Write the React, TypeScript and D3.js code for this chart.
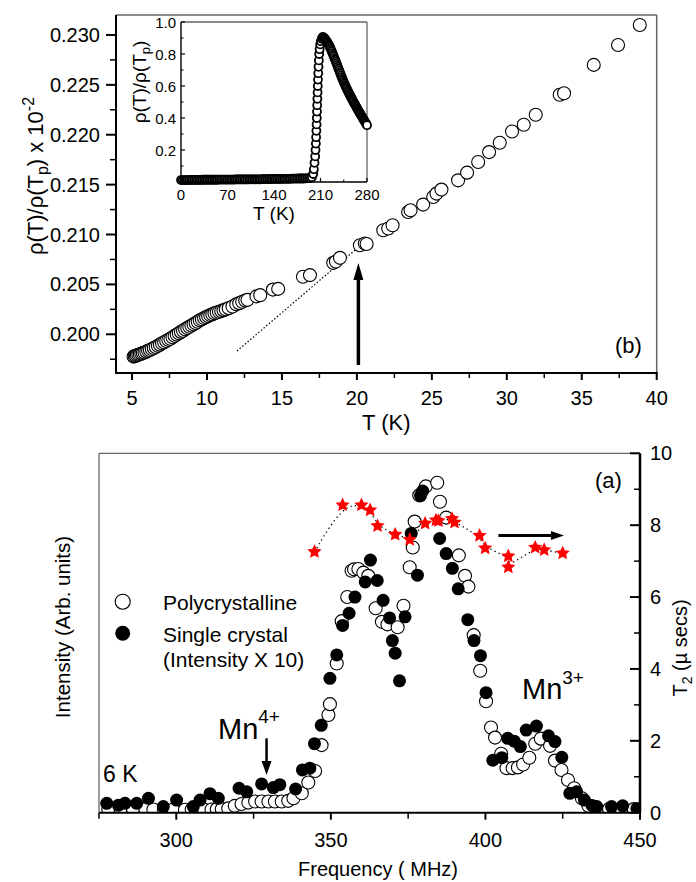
import React from "react";
import * as d3 from "d3";

const FONT = "'Liberation Sans', Arial, Helvetica, sans-serif";

// ---------- Panel (b): low temperature resistivity ----------
const bTemp = [
  5.10, 5.18, 5.25, 5.33, 5.42, 5.52, 5.62, 5.72, 5.83, 5.95, 6.07, 6.19, 6.32, 6.45, 6.58, 6.72, 6.86, 7.00,
  7.14, 7.28, 7.42, 7.56, 7.70, 7.84, 7.98, 8.12, 8.26, 8.40, 8.54, 8.68, 8.82, 8.96, 9.10, 9.24, 9.38, 9.52,
  9.66, 9.80, 9.94, 10.08, 10.22, 10.36, 10.50, 10.65, 10.80, 10.95, 11.10, 11.25, 11.45, 11.70, 11.95, 12.15,
  12.35, 12.55, 12.70, 13.30, 13.55, 14.40, 14.75, 16.40, 16.87, 18.42, 18.60, 18.87, 20.20, 20.53, 20.65,
  21.76, 22.09, 22.38, 23.42, 23.58, 24.42, 25.09, 25.31, 25.64, 26.75, 27.35, 28.09, 28.82, 29.53, 30.35,
  31.13, 31.93, 33.53, 33.82, 35.80, 37.42, 38.87,
];
const bRho = [
  0.19776, 0.1978, 0.19785, 0.1979, 0.19795, 0.198, 0.19806, 0.19812, 0.19818, 0.19826, 0.19834, 0.19843,
  0.19852, 0.19862, 0.19872, 0.19884, 0.19896, 0.1991, 0.1992, 0.19932, 0.19944, 0.19956, 0.1997, 0.19984,
  0.19998, 0.2001, 0.20024, 0.20036, 0.2005, 0.20062, 0.20075, 0.20088, 0.201, 0.20113, 0.20126, 0.2014,
  0.2015, 0.20162, 0.20172, 0.20182, 0.20192, 0.202, 0.2021, 0.20218, 0.20226, 0.20234, 0.20242, 0.2025,
  0.20262, 0.20278, 0.203, 0.20312, 0.20326, 0.20338, 0.20345, 0.2038, 0.20392, 0.20448, 0.20455, 0.20576,
  0.20593, 0.20716, 0.2073, 0.20766, 0.20893, 0.2091, 0.20905, 0.21043, 0.2106, 0.21093, 0.21226, 0.21243,
  0.213, 0.21376, 0.2141, 0.2145, 0.21543, 0.2162, 0.21726, 0.21826, 0.2192, 0.22033, 0.221, 0.222, 0.224,
  0.22416, 0.227, 0.229, 0.231,
];
const bFitT = [12.0, 20.2];
const bFitRho = [0.19832, 0.20885];
const bArrowT = 20.1;
const bArrowRho = [0.19692, 0.20714];
const bXTicks = [5, 10, 15, 20, 25, 30, 35, 40];
const bXMinor = [7.5, 12.5, 17.5, 22.5, 27.5, 32.5, 37.5];
const bYTicks = [0.2, 0.205, 0.21, 0.215, 0.22, 0.225, 0.23];
const bYMinor = [0.1975, 0.2025, 0.2075, 0.2125, 0.2175, 0.2225, 0.2275];

// ---------- Inset: full temperature range ----------
const inTemp = [
  // low-T plateau
  0, 2.5, 5, 7.5, 10, 12.5, 15, 17.5, 20, 22.5, 25, 27.5, 30, 32.5, 35, 37.5, 40, 42.5, 45, 47.5, 50, 52.5, 55,
  57.5, 60, 62.5, 65, 67.5, 70, 72.5, 75, 77.5, 80, 82.5, 85, 87.5, 90, 92.5, 95, 97.5, 100, 102.5, 105, 107.5,
  110, 112.5, 115, 117.5, 120, 122.5, 125, 127.5, 130, 132.5, 135, 137.5, 140, 142.5, 145, 147.5, 150, 152.5,
  155, 157.5, 160, 162.5, 165, 167.5, 170, 172.5, 175, 177.5, 180, 182.5, 185, 187.5, 190, 192.5, 195,
  // transition
  197, 199, 200, 201, 202, 202.5, 203, 203.4, 203.8, 204.1, 204.4, 204.7, 205, 205.3, 205.6, 205.9, 206.2,
  206.6, 207, 207.5, 208, 208.7, 209.5, 210.5, 212,
  // paramagnetic side
  213, 214, 215, 216, 217, 218, 219, 220, 221, 222, 223, 224, 225, 226, 227, 228, 229, 230, 231, 232, 233, 234,
  235, 236, 237, 238, 239, 240, 241, 242, 243, 244, 245, 246, 247, 248, 249, 250, 251, 252, 253, 254, 255, 256,
  257, 258, 259, 260, 261, 262, 263, 264, 265, 266, 267, 268, 269, 270, 271, 272, 273, 274, 275, 276, 277, 278,
  279, 280,
];
const inRho = [
  0.012, 0.012, 0.012, 0.012, 0.012, 0.013, 0.013, 0.013, 0.013, 0.013, 0.013, 0.013, 0.013, 0.014, 0.014,
  0.014, 0.014, 0.014, 0.014, 0.014, 0.014, 0.014, 0.014, 0.015, 0.015, 0.015, 0.015, 0.015, 0.015, 0.015,
  0.015, 0.015, 0.015, 0.016, 0.016, 0.016, 0.016, 0.016, 0.016, 0.016, 0.016, 0.017, 0.017, 0.017, 0.017,
  0.017, 0.017, 0.017, 0.017, 0.018, 0.018, 0.018, 0.018, 0.018, 0.018, 0.019, 0.019, 0.019, 0.019, 0.019,
  0.019, 0.02, 0.02, 0.02, 0.02, 0.02, 0.02, 0.021, 0.021, 0.021, 0.021, 0.022, 0.022, 0.022, 0.022, 0.023,
  0.023, 0.024, 0.024,
  0.03, 0.05, 0.08, 0.12, 0.16, 0.2, 0.24, 0.28, 0.32, 0.36, 0.4, 0.44, 0.48, 0.52, 0.56, 0.6, 0.64, 0.68,
  0.72, 0.76, 0.8, 0.83, 0.86, 0.88, 0.895,
  0.905, 0.905, 0.902, 0.898, 0.893, 0.888, 0.882, 0.875, 0.868, 0.861, 0.853, 0.845, 0.836, 0.826, 0.816,
  0.806, 0.795, 0.785, 0.774, 0.764, 0.753, 0.742, 0.731, 0.72, 0.709, 0.698, 0.687, 0.677, 0.666, 0.656,
  0.645, 0.635, 0.625, 0.615, 0.606, 0.597, 0.588, 0.58, 0.571, 0.563, 0.554, 0.546, 0.538, 0.53, 0.522,
  0.514, 0.506, 0.499, 0.491, 0.484, 0.476, 0.469, 0.461, 0.454, 0.446, 0.439, 0.432, 0.425, 0.418, 0.411,
  0.404, 0.397, 0.39, 0.383, 0.376, 0.369, 0.362, 0.355,
];
const inXTicks = [0, 70, 140, 210, 280];
const inXMinor = [35, 105, 175, 245];
const inYTicks = [0.2, 0.4, 0.6, 0.8, 1.0];
const inYMinor = [0.1, 0.3, 0.5, 0.7, 0.9];

// ---------- Panel (a): NMR spectra ----------
const polyFreq = [
  278, 282, 286, 290, 292.6, 296, 299, 302.8, 305, 307.1, 309, 311.4, 313.1, 314.7, 316.8, 318.9, 321.1, 323.3,
  325.5, 327.6, 329.8, 331.9, 334.1, 336.2, 337.9, 340.6, 342.7, 344.9, 347.0, 349.2, 349.7, 351.9, 353.5,
  355.3, 356.7, 357.5, 358.9, 360.5, 362.1, 364.5, 366.5, 368.3, 371.6, 373.5, 375.5, 376.5, 377.1, 378.6,
  380.7, 384.4, 385.3, 387.3, 391.4, 393.4, 394.5, 396.2, 398.3, 400.2, 401.8, 403.1, 405.1, 406.8, 408.8,
  410.5, 412.2, 414.2, 416.1, 417.9, 420.9, 422.5, 424.6, 426.7, 428.7, 431.2, 433.3, 436, 440, 444, 448,
];
const polyInt = [
  0.1, 0.1, 0.1, 0.1, 0.09, 0.09, 0.09, 0.08, 0.09, 0.08, 0.09, 0.09, 0.1, 0.1, 0.12, 0.19, 0.24, 0.28,
  0.31, 0.31, 0.31, 0.31, 0.31, 0.33, 0.4, 0.54, 0.84, 1.16, 1.88, 2.72, 3.02, 4.15, 5.33,
  6.0, 6.73, 6.77, 6.78, 6.68, 6.59, 5.69, 5.31, 5.24, 5.16, 5.76, 6.83, 7.38, 8.1, 8.83,
  9.08, 9.18, 8.65, 8.21, 7.16, 6.59, 6.29, 4.94, 3.95, 3.1, 2.37, 2.09, 1.64, 1.24, 1.24,
  1.26, 1.34, 1.53, 1.92, 2.06, 1.86, 1.45, 1.19, 0.91, 0.68, 0.4, 0.19, 0.1, 0.1, 0.1, 0.1,
];
const singleFreq = [
  277.5, 281.3, 283.4, 287.2, 291.0, 295.8, 300.1, 305.5, 307.7, 310.9, 313.6, 320.3, 322.8, 327.6, 331.4,
  333.5, 338.6, 340.8, 343.2, 344.7, 346.9, 349.7, 351.9, 353.8, 355.9, 357.8, 361.1, 362.8, 365.0, 366.9,
  369.0, 369.9, 370.8, 372.2, 374.0, 376.0, 378.0, 379.0, 379.7, 385.2, 387.3, 389.3, 391.2, 394.3, 396.3,
  398.4, 400.2, 402.4, 405.3, 407.2, 409.3, 411.3, 413.2, 416.5, 420.4, 422.5, 424.7, 427.3, 429.5, 432.0,
  434.5, 436.0, 440.8, 444.4, 449.0,
];
const singleInt = [
  0.26, 0.21, 0.26, 0.26, 0.4, 0.17, 0.35, 0.17, 0.35, 0.53, 0.4, 0.68, 0.58, 0.8, 0.7,
  0.78, 0.66, 1.19, 1.24, 1.92, 2.43, 3.74, 4.39, 5.21, 5.55, 6.0, 6.42, 7.03, 6.46, 5.91,
  5.42, 4.79, 4.44, 3.67, 5.45, 7.77, 6.61, 8.82, 8.95, 7.63, 7.21, 6.8, 6.23, 5.37, 4.79,
  4.37, 3.34, 1.46, 1.53, 2.07, 1.99, 1.84, 2.3, 2.41, 2.14, 1.98, 1.54, 0.54, 0.58, 0.35,
  0.2, 0.17, 0.17, 0.19, 0.12,
];
const starFreq = [
  344.7, 353.8, 359.9, 362.7, 365.1, 370.8, 375.5, 380.5, 384.0, 384.8, 389.2, 390.0, 398.1, 399.9, 407.4,
  407.4, 416.1, 419.0, 425.0,
];
const starT2 = [
  7.26, 8.56, 8.56, 8.42, 7.98, 7.74, 7.6, 8.05, 8.14, 8.12, 8.18, 8.08, 7.71, 7.36, 7.14, 6.83, 7.38, 7.31,
  7.22,
];
const aArrowFreq = [404.2, 425.4];
const aArrowT2 = 7.71;
const mn4ArrowFreq = 329.2;
const mn4ArrowInt = [2.07, 1.05];
const aXTicks = [300, 350, 400, 450];
const aXMinor = [275, 325, 375, 425];
const aYTicks = [0, 2, 4, 6, 8, 10];
const aYMinor = [1, 3, 5, 7, 9];
const legendLabels = ["Polycrystalline", "Single crystal", "(Intensity X 10)"];

const GREY = "#666";

// fatter five-point star symbol (outer radius from size)
const fatStar = {
  draw(context: any, size: number) {
    const R = Math.sqrt(size) / 1.25;
    const r = R * 0.48;
    for (let k = 0; k < 10; k++) {
      const a = -Math.PI / 2 + (k * Math.PI) / 5;
      const rr = k % 2 === 0 ? R : r;
      const x = rr * Math.cos(a);
      const y = rr * Math.sin(a);
      if (k === 0) context.moveTo(x, y);
      else context.lineTo(x, y);
    }
    context.closePath();
  },
};

export default function App() {
  const xB = d3.scaleLinear().domain([3.93, 40]).range([116, 656.7]);
  const yB = d3.scaleLinear().domain([0.19612, 0.232]).range([373, 15]);
  const xI = d3.scaleLinear().domain([0, 280]).range([181, 367]);
  const yI = d3.scaleLinear().domain([0, 1]).range([182, 22]);
  const xA = d3.scaleLinear().domain([275, 450]).range([99, 640]);
  const yA = d3.scaleLinear().domain([0, 10]).range([812.7, 453.3]);

  const fmt3 = d3.format(".3f");
  const fmt1 = d3.format(".1f");
  const starPath = d3.symbol(fatStar as any, 88)() as string;
  const starLine = d3
    .line<number>()
    .x((_, i) => xA(starFreq[i]))
    .y((_, i) => yA(starT2[i]))
    .curve(d3.curveBasis)(starFreq) as string;

  const [bx0, bx1] = xB.range();
  const [by0, by1] = yB.range();
  const [ix0, ix1] = xI.range();
  const [iy0, iy1] = yI.range();
  const [ax0, ax1] = xA.range();
  const [ay0, ay1] = yA.range();

  const bArrX = xB(bArrowT);
  const bArrBot = yB(bArrowRho[0]);
  const bArrTip = yB(bArrowRho[1]);
  const aArrY = yA(aArrowT2);
  const aArrL = xA(aArrowFreq[0]);
  const aArrTip = xA(aArrowFreq[1]);
  const mnX = xA(mn4ArrowFreq);
  const mnTop = yA(mn4ArrowInt[0]);
  const mnTip = yA(mn4ArrowInt[1]);

  return (
    <svg
      width={696}
      height={882}
      style={{ position: "absolute", left: 0, top: 0, background: "#fff", display: "block" }}
      fontFamily={FONT}
    >
      <defs>
        <clipPath id="clipA">
          <rect x={ax0} y={ay1} width={ax1 - ax0} height={ay0 - ay1} />
        </clipPath>
      </defs>
      <rect x={0} y={0} width={696} height={882} fill="#fff" />

      {/* ================= Panel (b) ================= */}
      <line x1={bx0} y1={by1} x2={bx1} y2={by1} stroke={GREY} strokeWidth={1.5} />
      <line x1={bx1} y1={by1} x2={bx1} y2={by0} stroke={GREY} strokeWidth={1.5} />
      <line x1={bx0} y1={by0} x2={bx1 + 1} y2={by0} stroke="#000" strokeWidth={2} />
      <line x1={bx0} y1={by1} x2={bx0} y2={by0 + 1} stroke="#000" strokeWidth={2} />
      {bXTicks.map((t) => (
        <g key={"bxt" + t}>
          <line x1={xB(t)} x2={xB(t)} y1={by0} y2={by0 + 7} stroke="#000" strokeWidth={2} />
          <text x={xB(t)} y={405} fontSize={20} textAnchor="middle">
            {t}
          </text>
        </g>
      ))}
      {bXMinor.map((t) => (
        <line key={"bxm" + t} x1={xB(t)} x2={xB(t)} y1={by0} y2={by0 + 5} stroke="#000" strokeWidth={1.5} />
      ))}
      {bYTicks.map((t) => (
        <g key={"byt" + t}>
          <line x1={bx0 - 10} x2={bx0} y1={yB(t)} y2={yB(t)} stroke="#000" strokeWidth={2} />
          <text x={100} y={yB(t) + 7} fontSize={20} textAnchor="end">
            {fmt3(t)}
          </text>
        </g>
      ))}
      {bYMinor.map((t) => (
        <line key={"bym" + t} x1={bx0 - 6} x2={bx0} y1={yB(t)} y2={yB(t)} stroke="#000" strokeWidth={1.5} />
      ))}
      <text x={(bx0 + bx1) / 2} y={430} fontSize={22} textAnchor="middle">
        T (K)
      </text>
      <text transform="translate(43,176) rotate(-90)" fontSize={22} textAnchor="middle">
        ρ(T)/ρ(T
        <tspan fontSize={16} dy={5}>
          p
        </tspan>
        <tspan dy={-5}>) x 10</tspan>
        <tspan fontSize={16} dy={-9}>
          -2
        </tspan>
      </text>
      <text x={615} y={353} fontSize={22}>
        (b)
      </text>

      <line
        x1={xB(bFitT[0])}
        y1={yB(bFitRho[0])}
        x2={xB(bFitT[1])}
        y2={yB(bFitRho[1])}
        stroke="#000"
        strokeWidth={1.2}
        strokeDasharray="1.5 2"
      />
      {bTemp.map((t, i) => (
        <circle key={"bp" + i} cx={xB(t)} cy={yB(bRho[i])} r={6.5} fill="#fff" stroke="#000" strokeWidth={1.1} />
      ))}
      <line x1={bArrX} x2={bArrX} y1={bArrBot} y2={bArrTip + 14} stroke="#000" strokeWidth={3.5} />
      <path
        d={`M${bArrX},${bArrTip} L${bArrX - 5},${bArrTip + 17} L${bArrX + 5},${bArrTip + 17} Z`}
        fill="#000"
      />

      {/* ================= Inset ================= */}
      <line x1={ix0} y1={iy1} x2={ix1} y2={iy1} stroke={GREY} strokeWidth={1.3} />
      <line x1={ix1} y1={iy1} x2={ix1} y2={iy0} stroke={GREY} strokeWidth={1.3} />
      {inXTicks.map((t) => (
        <g key={"ixt" + t}>
          <line x1={xI(t)} x2={xI(t)} y1={iy0} y2={iy0 - 4} stroke="#000" strokeWidth={1.2} />
          <text x={xI(t)} y={200} fontSize={15} textAnchor="middle">
            {t}
          </text>
        </g>
      ))}
      {inXMinor.map((t) => (
        <line key={"ixm" + t} x1={xI(t)} x2={xI(t)} y1={iy0} y2={iy0 - 2.5} stroke="#000" strokeWidth={1} />
      ))}
      {inYTicks.map((t) => (
        <g key={"iyt" + t}>
          <line x1={ix0} x2={ix0 + 4} y1={yI(t)} y2={yI(t)} stroke="#000" strokeWidth={1.2} />
          <text x={176} y={yI(t) + 5.5} fontSize={15} textAnchor="end">
            {fmt1(t)}
          </text>
        </g>
      ))}
      {inYMinor.map((t) => (
        <line key={"iym" + t} x1={ix0} x2={ix0 + 2.5} y1={yI(t)} y2={yI(t)} stroke="#000" strokeWidth={1} />
      ))}
      <text x={(ix0 + ix1) / 2} y={220} fontSize={19} textAnchor="middle">
        T (K)
      </text>
      <text transform="translate(146,82) rotate(-90)" fontSize={19} textAnchor="middle">
        ρ(T)/ρ(T
        <tspan fontSize={13} dy={4}>
          p
        </tspan>
        <tspan dy={-4}>)</tspan>
      </text>
      {inTemp.map((t, i) => (
        <circle key={"ip" + i} cx={xI(t)} cy={yI(inRho[i])} r={4} fill="#fff" stroke="#000" strokeWidth={1.8} />
      ))}
      <line x1={ix0} y1={iy0} x2={ix1} y2={iy0} stroke="#000" strokeWidth={1.4} />
      <line x1={ix0} y1={iy1} x2={ix0} y2={iy0} stroke="#000" strokeWidth={1.4} />

      {/* ================= Panel (a) ================= */}
      <line x1={ax0} y1={ay1} x2={ax1} y2={ay1} stroke={GREY} strokeWidth={1.3} />
      <line x1={ax0} y1={ay1} x2={ax0} y2={ay0} stroke={GREY} strokeWidth={1.3} />
      {aXTicks.map((t) => (
        <g key={"axt" + t}>
          <line x1={xA(t)} x2={xA(t)} y1={ay0} y2={ay0 + 7} stroke="#000" strokeWidth={2} />
          <text x={xA(t)} y={847} fontSize={20} textAnchor="middle">
            {t}
          </text>
        </g>
      ))}
      {aXMinor.map((t) => (
        <line key={"axm" + t} x1={xA(t)} x2={xA(t)} y1={ay0} y2={ay0 + 6} stroke="#000" strokeWidth={1.5} />
      ))}
      {aYTicks.map((t) => (
        <g key={"ayt" + t}>
          <line x1={ax1 - 10} x2={ax1} y1={yA(t)} y2={yA(t)} stroke="#000" strokeWidth={2} />
          <text x={650} y={yA(t) + 7} fontSize={20} textAnchor="start">
            {t}
          </text>
        </g>
      ))}
      {aYMinor.map((t) => (
        <line key={"aym" + t} x1={ax1 - 6} x2={ax1} y1={yA(t)} y2={yA(t)} stroke="#000" strokeWidth={1.5} />
      ))}
      <text x={298} y={876} fontSize={20}>
        Frequency ( MHz)
      </text>
      <text transform="translate(70,627) rotate(-90)" fontSize={20.5} textAnchor="middle">
        Intensity (Arb. units)
      </text>
      <text transform="translate(687,648) rotate(-90)" fontSize={20} textAnchor="middle">
        T
        <tspan fontSize={14} dy={5}>
          2
        </tspan>
        <tspan dy={-5}> (µ secs)</tspan>
      </text>

      <g clipPath="url(#clipA)">
        {polyFreq.map((f, i) => (
          <circle key={"pp" + i} cx={xA(f)} cy={yA(polyInt[i])} r={6.5} fill="#fff" stroke="#000" strokeWidth={1.1} />
        ))}
        {singleFreq.map((f, i) => (
          <circle key={"sp" + i} cx={xA(f)} cy={yA(singleInt[i])} r={6.5} fill="#000" />
        ))}
      </g>
      <path d={starLine} fill="none" stroke="#000" strokeWidth={1.3} strokeDasharray="1.3 3.2" />
      {starFreq.map((f, i) => (
        <path key={"st" + i} d={starPath} transform={`translate(${xA(f)},${yA(starT2[i])})`} fill="#ff0000" />
      ))}

      <line x1={ax0} y1={ay0} x2={ax1 + 1} y2={ay0} stroke="#000" strokeWidth={2} />
      <line x1={ax1} y1={ay1} x2={ax1} y2={ay0} stroke="#000" strokeWidth={2.5} />

      <line x1={aArrL} x2={aArrTip - 10} y1={aArrY} y2={aArrY} stroke="#000" strokeWidth={3} />
      <path d={`M${aArrTip},${aArrY} L${aArrTip - 13},${aArrY - 4.5} L${aArrTip - 13},${aArrY + 4.5} Z`} fill="#000" />
      <line x1={mnX} x2={mnX} y1={mnTop} y2={mnTip - 11} stroke="#000" strokeWidth={2.5} />
      <path d={`M${mnX},${mnTip} L${mnX - 5},${mnTip - 14} L${mnX + 5},${mnTip - 14} Z`} fill="#000" />

      <text x={218} y={739} fontSize={29}>
        Mn
        <tspan fontSize={19} dy={-16}>
          4+
        </tspan>
      </text>
      <text x={522} y={699} fontSize={29}>
        Mn
        <tspan fontSize={19} dy={-15}>
          3+
        </tspan>
      </text>
      <text x={103} y={782} fontSize={23}>
        6 K
      </text>
      <text x={595} y={488} fontSize={22}>
        (a)
      </text>

      <circle cx={122.7} cy={601.7} r={7.5} fill="#fff" stroke="#000" strokeWidth={1.1} />
      <circle cx={122.7} cy={633.3} r={7.5} fill="#000" />
      <text x={163} y={610} fontSize={21}>
        {legendLabels[0]}
      </text>
      <text x={163} y={641.7} fontSize={21}>
        {legendLabels[1]}
      </text>
      <text x={163} y={667.3} fontSize={21}>
        {legendLabels[2]}
      </text>
    </svg>
  );
}
